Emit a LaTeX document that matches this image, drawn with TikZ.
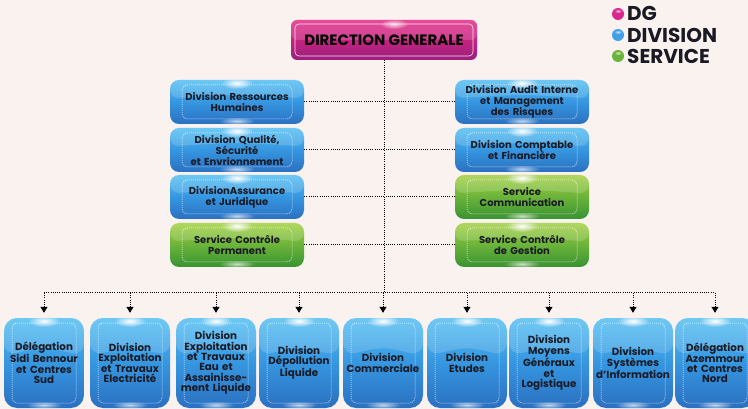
\documentclass[tikz,border=0pt]{standalone}
\usepackage{fontspec}
\setmainfont{Poppins}
\usetikzlibrary{arrows.meta,calc,fadings}
\tikzfading[name=glow, inner color=transparent!0, outer color=transparent!100]
\definecolor{bg}{HTML}{FAF2EF}
\definecolor{txt}{HTML}{1A1A24}
\definecolor{btop}{HTML}{52BEF2}
\definecolor{bmid}{HTML}{3696E0}
\definecolor{bbot}{HTML}{2A70C0}
\definecolor{gtop}{HTML}{A2D040}
\definecolor{gmid}{HTML}{6BB33A}
\definecolor{gbot}{HTML}{389332}
\definecolor{ptop}{HTML}{E22C88}
\definecolor{pmid}{HTML}{C4237F}
\definecolor{pbot}{HTML}{99207E}
\definecolor{lpink}{HTML}{D8288E}
\definecolor{lblue}{HTML}{3FA0E8}
\definecolor{lgreen}{HTML}{6AB43A}
\tikzset{
  gloss/.style={path picture={
    \fill[white,opacity=0.16] (path picture bounding box.north west) -- (path picture bounding box.north east)
      -- ($(path picture bounding box.north east)!0.42!(path picture bounding box.south east)$)
      .. controls ($(path picture bounding box.north)!0.32!(path picture bounding box.south)$) .. ($(path picture bounding box.north west)!0.42!(path picture bounding box.south west)$) -- cycle;
    \fill[white,path fading=glow] ([yshift=-3pt]path picture bounding box.north) ellipse (16pt and 6pt);
    \fill[white,path fading=glow,opacity=0.7] ([yshift=3pt]path picture bounding box.south) ellipse (18pt and 4pt);
    \draw[white,line width=0.5pt,dash pattern=on 1pt off 1pt,rounded corners=5pt]
      ([shift={(#1,-5pt)}]path picture bounding box.north west) rectangle ([shift={(-#1,5pt)}]path picture bounding box.south east);
  }},
  boxbase/.style={rounded corners=9pt, align=center, text=txt, inner sep=0pt,
    font=\fontsize{10}{11}\selectfont\bfseries},
  bluebox/.style={boxbase, top color=btop, bottom color=bbot, middle color=bmid,
    minimum width=134pt, minimum height=44pt, text width=128pt, gloss=12pt},
  greenbox/.style={boxbase, top color=gtop, bottom color=gbot, middle color=gmid,
    minimum width=134pt, minimum height=44pt, text width=128pt, gloss=12pt},
  lowbox/.style={boxbase, rounded corners=13pt, top color=btop, bottom color=bbot, middle color=bmid,
    minimum width=80pt, minimum height=90pt, text width=80pt, gloss=8pt,
    font=\fontsize{10.3}{10.4}\selectfont\bfseries},
  dgbox/.style={rounded corners=6pt, align=center, text=black, inner sep=0pt,
    top color=ptop, bottom color=pbot, middle color=pmid,
    minimum width=186pt, minimum height=40pt, font=\fontsize{15}{16}\selectfont\bfseries,
    path picture={
      \fill[white,opacity=0.15] (path picture bounding box.north west) rectangle ($(path picture bounding box.east)$);
      \fill[white,path fading=glow,opacity=0.8] ([shift={(10pt,-4pt)}]path picture bounding box.north) ellipse (14pt and 5pt);
      \draw[white,line width=0.6pt,opacity=0.85,rounded corners=4pt]
        ([shift={(4pt,-4pt)}]path picture bounding box.north west) rectangle ([shift={(-4pt,4pt)}]path picture bounding box.south east);
    }},
  conn/.style={black, line width=1pt, dash pattern=on 1pt off 1.2pt},
  arr/.style={conn, -{Triangle[width=7pt,length=6pt]}, shorten >=5pt},
  legend/.style={anchor=west, inner sep=0pt, text=txt, font=\fontsize{20}{22}\selectfont\bfseries},
  bullet/.style={fill=#1},
  shine/.style={fill=white, path fading=glow, opacity=0.7},
}
\begin{document}
\begin{tikzpicture}[x=1pt,y=-1pt]
\useasboundingbox[fill=bg] (0,0) rectangle (748,409);
\clip (0,0) rectangle (748,409);

% legend
\fill[bullet=lpink] (618,14) circle (6);
\fill[shine] (618,11) ellipse (4 and 2.2);
\fill[bullet=lblue] (618,35) circle (6);
\fill[shine] (618,32) ellipse (4 and 2.2);
\fill[bullet=lgreen] (618,56) circle (6);
\fill[shine] (618,53) ellipse (4 and 2.2);
\node[legend] (lg1) at (627,13) {DG};
\node[legend] (lg2) at (627,35) {DIVISION};
\node[legend] (lg3) at (627,56) {SERVICE};

% direction
\node[dgbox] (dg) at (384,40) {DIRECTION GENERALE};

% left column
\node[bluebox] (l1) at (237,102) {Division Ressources\\Humaines};
\node[bluebox] (l2) at (237,150) {Division Qualité,\\Sécurité\\et Envrionnement};
\node[bluebox] (l3) at (237,197) {DivisionAssurance\\et Juridique};
\node[greenbox] (l4) at (237,245) {Service Contrôle\\Permanent};

% right column
\node[bluebox] (r1) at (522,102) {Division Audit Interne\\et Management\\des Risques};
\node[bluebox] (r2) at (522,150) {Division Comptable\\et Financière};
\node[greenbox] (r3) at (522,197) {Service\\Communication};
\node[greenbox] (r4) at (522,245) {Service Contrôle\\de Gestion};

% bottom row
\node[lowbox] (b1) at (44,363) {Délégation\\Sidi Bennour\\et Centres\\Sud};
\node[lowbox] (b2) at (130,363) {Division\\Exploitation\\et Travaux\\Electricité};
\node[lowbox] (b3) at (216,363) {Division\\Exploitation\\et Travaux\\Eau et\\Assainisse-\\ment Liquide};
\node[lowbox] (b4) at (299,363) {Division\\Dépollution\\Liquide};
\node[lowbox] (b5) at (383,363) {Division\\Commerciale};
\node[lowbox] (b6) at (467,363) {Division\\Etudes};
\node[lowbox] (b7) at (549,363) {Division\\Moyens\\Généraux\\et\\Logistique};
\node[lowbox] (b8) at (633,363) {Division\\Systèmes\\d'Information};
\node[lowbox] (b9) at (715,363) {Délégation\\Azemmour\\et Centres\\Nord};

% connectors
\coordinate (h) at (383,293);
\draw[conn] (dg.south) -- (dg.south |- h);
\draw[conn] (b1 |- h) -- (b9 |- h);
\foreach \n in {l1,l2,l3,l4}{\draw[conn] (\n.east) -- (\n.east -| h);}
\foreach \n in {r1,r2,r3,r4}{\draw[conn] (\n.west) -- (\n.west -| h);}
\foreach \n in {b1,b2,b3,b4,b5,b6,b7,b8,b9}{\draw[arr] (\n |- h) -- (\n.north);}
\end{tikzpicture}
\end{document}
